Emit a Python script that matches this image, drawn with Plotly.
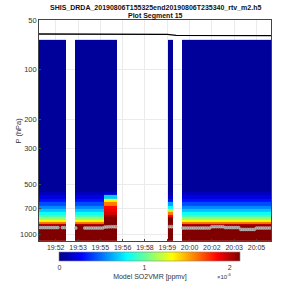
import plotly.graph_objects as go
import numpy as np

# ---------------- data ----------------
title_line1 = "SHIS_DRDA_20190806T155325end20190806T235340_rtv_m2.h5"
title_line2 = "Plot Segment 15"

# x is the retrieval sample index (1..104); tick labels are scan times
n_samples = 104
tick_samples = [8, 18, 28, 38, 48, 58, 68, 78, 88, 98]
tick_labels = ["19:52", "19:53", "19:55", "19:56", "19:58", "19:59",
               "20:00", "20:02", "20:03", "20:05"]

# pressure layer edges (hPa) of the retrieved SO2 profile
p_edges = [66, 550, 580, 610, 640, 670, 700, 730, 760, 790, 820, 840, 860, 880, 1100]

# SO2 VMR per layer, in units of 1e-6 ppmv
profile_A = [0.05, 0.12, 0.20, 0.30, 0.42, 0.55, 0.68, 0.82, 0.95, 1.10, 1.30, 1.60, 2.00, 2.30]
profile_B = [0.05, 0.15, 0.70, 1.35, 1.60, 1.85, 1.90, 1.95, 2.05, 2.20, 2.25, 2.30, 2.30, 2.30]
profile_C = [0.05, 0.08, 0.15, 0.30, 0.60, 0.80, 1.20, 1.60, 1.85, 2.20, 2.25, 2.30, 2.30, 2.30]
profiles = {"A": profile_A, "B": profile_B, "C": profile_C}

# consecutive runs of samples: (profile id or None for missing, number of samples)
sample_runs = [("A", 12), (None, 4), ("A", 13), ("B", 6), (None, 23),
               ("C", 2), (None, 4), ("A", 40)]

# surface pressure (hPa) per sample, None where not plotted
surface_p = (
    [912, 912, 912, 912, 912, 912, 912, 912, 912, None, 912, 912]
    + [None, None, None, None]
    + [917, None, None, None, 917, 917, 917, 917, 917, 917, 917, 917, 917,
       905, 903, 902, 902, 902, 902]
    + [None] * 23
    + [900, 900]
    + [None] * 4
    + [917, 917, 917, 917, 917, 917, 917, 917, 917, 917, 917, 917, 917,
       900, 900, 900, 900, 900, 900,
       912, 912, 912, 912, 912, 912, 912,
       935, 935, 935, 935, 935, 935, 935,
       917, 917, 917, 917, 917, 917, 917]
)

# upper boundary line (hPa)
line_x = [0.5, 20, 40, 58, 62, 80, 104.5]
line_p = [60.8, 60.9, 61.0, 61.2, 62.0, 62.2, 62.3]

# ---------------- build ----------------
cols = []
for pid, count in sample_runs:
    for _ in range(count):
        cols.append(profiles[pid] if pid else [None] * len(profile_A))
z = [list(row) for row in zip(*cols)]  # layers x samples
x_samples = list(range(1, n_samples + 1))

jet = [[0.0, "rgb(0,0,132)"], [0.125, "rgb(0,0,255)"], [0.375, "rgb(0,255,255)"],
       [0.625, "rgb(255,255,0)"], [0.875, "rgb(255,0,0)"], [1.0, "rgb(128,0,0)"]]

FONT = "Liberation Sans"
fig = go.Figure()
fig.add_trace(go.Heatmap(
    x=x_samples, y=p_edges, z=z, colorscale=jet, zmin=0, zmax=2.125,
    hoverongaps=False,
    colorbar=dict(
        orientation="h", x=0.478, xanchor="center", y=-0.05, yanchor="top",
        lenmode="pixels", len=181, thickness=9, xpad=0, ypad=0,
        outlinewidth=0.6, outlinecolor="#888888",
        tickvals=[0, 1, 2], ticktext=["0", "1", "2"], ticks="",
        tickfont=dict(family=FONT, size=7, color="#333333"),
        title=dict(text="Model SO2VMR [ppmv]", side="bottom",
                   font=dict(family=FONT, size=7, color="#333333")),
    ),
))
fig.add_trace(go.Scatter(
    x=x_samples, y=surface_p, mode="markers",
    marker=dict(size=3, color="#9a9a9a", line=dict(width=0.4, color="#dddddd")),
    showlegend=False,
))
fig.add_trace(go.Scatter(
    x=line_x, y=line_p, mode="lines", line=dict(color="black", width=1.3),
    showlegend=False,
))

fig.update_layout(
    width=300, height=300,
    margin=dict(l=39, r=29, t=20, b=59),
    paper_bgcolor="white", plot_bgcolor="white",
    showlegend=False,
    font=dict(family=FONT, size=7, color="#333333"),
    xaxis=dict(range=[0.5, n_samples + 0.5], tickvals=tick_samples, ticktext=tick_labels,
               showgrid=True, gridcolor="#ebebeb", gridwidth=0.6,
               ticks="inside", ticklen=2, tickcolor="#444444",
               showline=True, linecolor="#444444", linewidth=0.6, mirror=True,
               zeroline=False, tickfont=dict(size=7)),
    yaxis=dict(type="log", range=[np.log10(1100), np.log10(50)],
               tickvals=[50, 100, 200, 300, 500, 700, 1000],
               ticktext=["50", "100", "200", "300", "500", "700", "1000"],
               showgrid=True, gridcolor="#ebebeb", gridwidth=0.6,
               ticks="inside", ticklen=2, tickcolor="#444444",
               showline=True, linecolor="#444444", linewidth=0.6, mirror=True,
               zeroline=False, tickfont=dict(size=7.5)),
)
fig.add_annotation(text="P (hPa)", textangle=-90,
                   xref="paper", yref="paper", x=-0.0905, y=0.5,
                   xanchor="center", yanchor="middle", showarrow=False,
                   font=dict(family=FONT, size=7.5, color="#333333"))
fig.add_annotation(text="<b>" + title_line1 + "</b>",
                   xref="paper", yref="paper", x=0.5, y=1.0588,
                   xanchor="center", yanchor="middle", showarrow=False,
                   font=dict(family=FONT, size=7, color="#111111"))
fig.add_annotation(text="<b>" + title_line2 + "</b>",
                   xref="paper", yref="paper", x=0.5, y=1.0195,
                   xanchor="center", yanchor="middle", showarrow=False,
                   font=dict(family=FONT, size=7, color="#111111"))
fig.add_annotation(text="×10<sup>-6</sup>", xref="paper", yref="paper",
                   x=0.76, y=-0.158, xanchor="left", yanchor="middle", showarrow=False,
                   font=dict(family=FONT, size=6, color="#333333"))

fig.write_html("out.html")
